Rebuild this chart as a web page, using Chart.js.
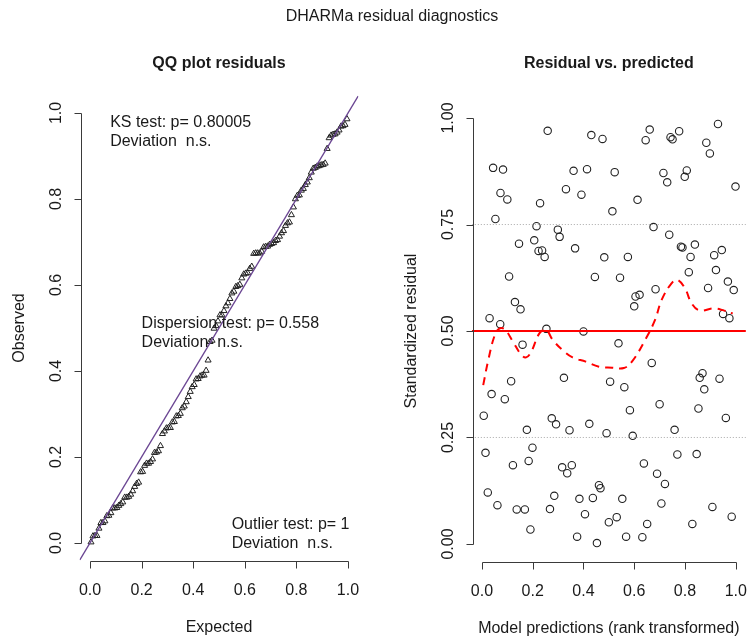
<!DOCTYPE html>
<html><head><meta charset="utf-8">
<script src="https://cdn.jsdelivr.net/npm/chart.js@4.4.0/dist/chart.umd.min.js"></script>
<style>
html,body{margin:0;padding:0;background:#fff;}
#wrap{position:relative;width:751px;height:639px;overflow:hidden;background:#fff;}
#wrap canvas{position:absolute;left:0;top:0;}
</style></head>
<body>
<div id="wrap"><canvas id="qq" width="751" height="639"></canvas><canvas id="rv" width="751" height="639"></canvas></div>
<script>
// ---------- data ----------
const predictions = [.259,.431,.475,.044,.083,.361,.414,.073,.100,.331,.392,.229,.053,.215,.299,.306,.146,.206,.223,.237,.247,.367,.482,.445,.107,.130,.152,.030,.072,.254,.400,.661,.645,.743,.751,.777,.930,.884,.898,.523,.715,.730,.807,.799,.999,.613,.514,.676,.738,.784,.790,.839,.575,.822,.915,.945,.544,.815,.922,.605,.621,.684,.600,.969,.992,.891,.950,.975,.160,.115,.323,.505,.038,.090,.007,.275,.292,.177,.345,.423,.491,.014,.199,.122,.184,.316,.336,.354,.023,.061,.137,.169,.285,.268,.384,.437,.461,.467,.406,.500,.191,.375,.453,.538,.669,.561,.869,.858,.936,.876,.583,.700,.853,.961,.594,.759,.770,.846,.638,.690,.721,.553,.707,.908,.984,.531,.651,.829,.568,.632];
const residuals = [.970,.960,.951,.883,.879,.876,.880,.824,.809,.833,.820,.800,.763,.746,.738,.721,.705,.713,.688,.689,.674,.694,.673,.627,.628,.568,.551,.530,.516,.505,.499,.973,.948,.955,.950,.969,.986,.942,.917,.873,.871,.849,.877,.862,.839,.808,.781,.744,.726,.698,.696,.703,.674,.674,.678,.690,.625,.638,.643,.581,.585,.598,.558,.616,.596,.601,.540,.530,.468,.382,.390,.381,.352,.340,.301,.295,.281,.268,.267,.282,.260,.214,.226,.185,.195,.180,.166,.185,.121,.091,.081,.081,.113,.082,.106,.108,.138,.131,.070,.051,.034,.017,.002,.471,.425,.368,.401,.390,.388,.363,.314,.328,.318,.296,.254,.268,.210,.211,.189,.165,.141,.106,.095,.087,.064,.063,.047,.047,.017,.016];
const splineX = [.005,.025,.051,.070,.090,.122,.155,.174,.194,.227,.253,.279,.318,.357,.409,.461,.513,.559,.591,.643,.682,.708,.747,.770,.800,.826,.858,.910,.949,.988];
const splineY = [.373,.432,.491,.506,.504,.475,.444,.438,.451,.495,.502,.479,.455,.438,.428,.416,.414,.413,.428,.479,.526,.573,.612,.620,.600,.565,.548,.553,.549,.541];
const quantileLevels = [0.25, 0.75];
const medianLevel = 0.5;
const qqTicks = [0, 0.2, 0.4, 0.6, 0.8, 1.0];
const qqTickLabels = ['0.0','0.2','0.4','0.6','0.8','1.0'];
const rvYTicks = [0, 0.25, 0.5, 0.75, 1.0];
const rvYTickLabels = ['0.00','0.25','0.50','0.75','1.00'];
const mainTitle = 'DHARMa residual diagnostics';
const qqTitle = 'QQ plot residuals';
const rvTitle = 'Residual vs. predicted';
const qqTexts = [
  ['KS test: p= 0.80005', 'Deviation  n.s.'],
  ['Dispersion test: p= 0.558', 'Deviation  n.s.'],
  ['Outlier test: p= 1', 'Deviation  n.s.']
];

// QQ plot: sorted residuals against uniform expected quantiles
const qqObserved = residuals.slice().sort((a, b) => a - b);
const qqExpected = qqObserved.map((_, i) => (i + 0.5) / qqObserved.length);

// ---------- drawing ----------
const FONT = '"Liberation Sans", Arial, Helvetica, sans-serif';
const LIM = [-0.04, 1.04];

const rAxes = {
  id: 'rAxes',
  afterDatasetsDraw(chart, args, o) {
    const ctx = chart.ctx, xs = chart.scales.x, ys = chart.scales.y, a = chart.chartArea;
    ctx.save();
    const axY = Math.floor(a.bottom + 1.5) + 0.5;
    const axX = Math.floor(a.left + 1.5) + 0.5;
    const xT = o.xTicks, yT = o.yTicks;
    const x0 = xs.getPixelForValue(xT[0]), x1 = xs.getPixelForValue(xT[xT.length - 1]);
    const y0 = ys.getPixelForValue(yT[0]), y1 = ys.getPixelForValue(yT[yT.length - 1]);
    ctx.strokeStyle = '#3a3a3a'; ctx.lineWidth = 1;
    ctx.beginPath();
    ctx.moveTo(Math.round(x0) + 0.5, axY); ctx.lineTo(Math.round(x1) + 0.5, axY);
    xT.forEach(v => { const p = Math.round(xs.getPixelForValue(v)) + 0.5; ctx.moveTo(p, axY); ctx.lineTo(p, axY + 7); });
    ctx.moveTo(axX, Math.round(y0) + 0.5); ctx.lineTo(axX, Math.round(y1) + 0.5);
    yT.forEach(v => { const p = Math.round(ys.getPixelForValue(v)) + 0.5; ctx.moveTo(axX, p); ctx.lineTo(axX - 7, p); });
    ctx.stroke();

    ctx.fillStyle = '#1a1a1a';
    ctx.font = '16px ' + FONT;
    ctx.textAlign = 'center'; ctx.textBaseline = 'alphabetic';
    xT.forEach((v, i) => ctx.fillText(o.xLabels[i], xs.getPixelForValue(v), axY + 33));
    yT.forEach((v, i) => {
      ctx.save(); ctx.translate(axX - 21, ys.getPixelForValue(v)); ctx.rotate(-Math.PI / 2);
      ctx.fillText(o.yLabels[i], 0, 0); ctx.restore();
    });
    const cx = (x0 + x1) / 2, cy = (y0 + y1) / 2;
    ctx.fillText(o.xTitle, cx, axY + 70);
    ctx.save(); ctx.translate(axX - 58, cy); ctx.rotate(-Math.PI / 2); ctx.fillText(o.yTitle, 0, 0); ctx.restore();

    if (o.notes) {
      ctx.textAlign = 'left';
      o.notes.forEach(n => {
        const px = xs.getPixelForValue(n.x), py = ys.getPixelForValue(n.y);
        n.lines.forEach((t, k) => ctx.fillText(t, px, py + k * 19));
      });
      ctx.textAlign = 'center';
    }
    ctx.font = 'bold 16px ' + FONT;
    ctx.fillText(o.main, cx, 68);
    if (o.outer) {
      ctx.font = '16px ' + FONT;
      ctx.fillText(o.outer, 392, 21);
    }
    ctx.restore();
  }
};

const baseScales = {
  x: { type: 'linear', min: LIM[0], max: LIM[1], display: false },
  y: { type: 'linear', min: LIM[0], max: LIM[1], display: false }
};

new Chart(document.getElementById('qq'), {
  type: 'scatter',
  data: {
    datasets: [
      { label: 'identity', data: LIM.map(v => ({ x: v, y: v })), showLine: true, borderColor: '#6a4592', borderWidth: 1.3, pointRadius: 0, order: 0 },
      { label: 'qq', data: qqExpected.map((e, i) => ({ x: e, y: qqObserved[i] })), pointStyle: 'triangle', pointRadius: 3.5, borderColor: '#222', borderWidth: 1, backgroundColor: 'rgba(0,0,0,0)', order: 1 }
    ]
  },
  options: {
    responsive: false, animation: false, devicePixelRatio: 1,
    layout: { padding: { left: 79.7, right: 392.7, top: 95.8, bottom: 78.8 } },
    scales: baseScales,
    plugins: {
      legend: { display: false }, tooltip: { enabled: false },
      rAxes: {
        xTicks: qqTicks, xLabels: qqTickLabels, yTicks: qqTicks, yLabels: qqTickLabels,
        xTitle: 'Expected', yTitle: 'Observed', main: qqTitle, outer: mainTitle,
        notes: [
          { x: 0.078, y: 0.967, lines: qqTexts[0] },
          { x: 0.200, y: 0.501, lines: qqTexts[1] },
          { x: 0.549, y: 0.033, lines: qqTexts[2] }
        ]
      }
    }
  },
  plugins: [rAxes]
});

new Chart(document.getElementById('rv'), {
  type: 'scatter',
  data: {
    datasets: [
      { label: 'spline', data: splineX.map((x, i) => ({ x, y: splineY[i] })), showLine: true, borderColor: '#ff0000', borderWidth: 2, borderDash: [8, 6], tension: 0.4, pointRadius: 0, order: 0 },
      { label: 'median', data: LIM.map(x => ({ x, y: medianLevel })), showLine: true, borderColor: '#ff0000', borderWidth: 2, pointRadius: 0, order: 1 },
      ...quantileLevels.map(q => ({ label: 'q' + q, data: LIM.map(x => ({ x, y: q })), showLine: true, borderColor: '#a8a8a8', borderWidth: 1, borderDash: [1, 2], pointRadius: 0, order: 2 })),
      { label: 'res', data: predictions.map((x, i) => ({ x, y: residuals[i] })), pointStyle: 'circle', pointRadius: 3.7, borderColor: '#222', borderWidth: 1.1, backgroundColor: 'rgba(0,0,0,0)', order: 3 }
    ]
  },
  options: {
    responsive: false, animation: false, devicePixelRatio: 1,
    layout: { padding: { left: 471.8, right: 2.8, top: 101, bottom: 78 } },
    scales: baseScales,
    plugins: {
      legend: { display: false }, tooltip: { enabled: false },
      rAxes: {
        xTicks: qqTicks, xLabels: qqTickLabels, yTicks: rvYTicks, yLabels: rvYTickLabels,
        xTitle: 'Model predictions (rank transformed)', yTitle: 'Standardized residual', main: rvTitle
      }
    }
  },
  plugins: [rAxes]
});
</script>
</body></html>
